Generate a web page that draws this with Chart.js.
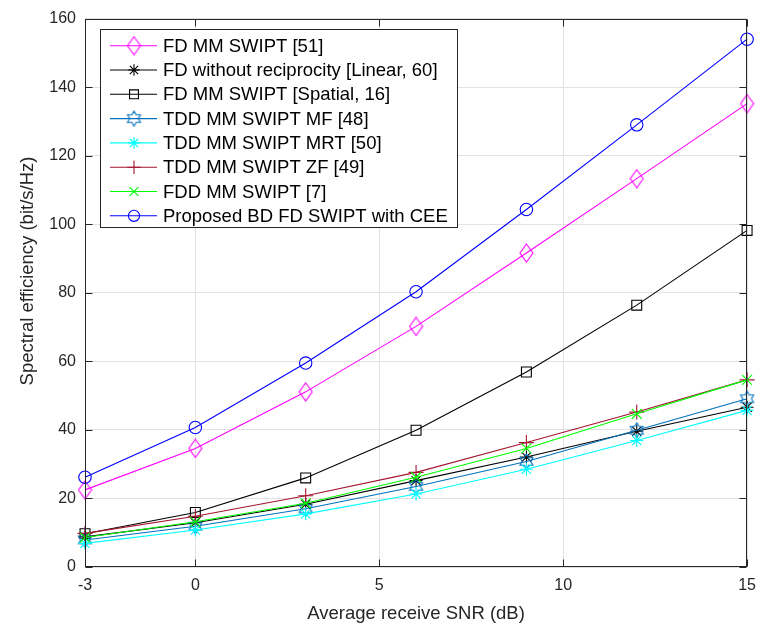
<!DOCTYPE html>
<html>
<head>
<meta charset="utf-8">
<script src="https://cdn.jsdelivr.net/npm/chart.js@4.4.1/dist/chart.umd.min.js"></script>
<style>
html,body{margin:0;padding:0;background:#fff;}
canvas{display:block;}
</style>
</head>
<body>
<canvas id="c" width="765" height="628" style="width:765px;height:628px"></canvas>
<script>
// ---- data ----
const snr = [-3, 0, 3, 6, 9, 12, 15];
const xTicks = [-3, 0, 5, 10, 15];
const yTicks = [0, 20, 40, 60, 80, 100, 120, 140, 160];
const labels = [
  'FD MM SWIPT [51]',
  'FD without reciprocity [Linear, 60]',
  'FD MM SWIPT [Spatial, 16]',
  'TDD MM SWIPT MF [48]',
  'TDD MM SWIPT MRT [50]',
  'TDD MM SWIPT ZF [49]',
  'FDD MM SWIPT [7]',
  'Proposed BD FD SWIPT with CEE'
];
const fdMM51      = [22.5, 34.6, 51.1, 70.2, 91.6, 113.3, 135.2];
const fdLinear60  = [8.8, 12.9, 18.3, 25.2, 32.1, 39.6, 46.6];
const fdSpatial16 = [9.7, 15.9, 26.0, 39.9, 56.9, 76.4, 98.2];
const tddMF48     = [7.9, 11.9, 17.0, 23.5, 30.8, 39.9, 49.1];
const tddMRT50    = [6.9, 10.8, 15.5, 21.3, 28.5, 36.9, 45.7];
const tddZF49     = [9.8, 14.8, 20.8, 27.6, 36.3, 45.2, 54.6];
const fdd7        = [8.6, 13.2, 18.6, 26.2, 34.6, 44.7, 54.6];
const proposed    = [26.2, 40.7, 59.5, 80.3, 104.3, 129.0, 154.0];

// ---- custom markers ----
function hexagram(color){
  const c = document.createElement('canvas');
  c.width = 17; c.height = 17;
  const g = c.getContext('2d');
  const cx = 8.5, cy = 8.5, R = 7.5, r = R / Math.sqrt(3);
  g.beginPath();
  for (let i = 0; i < 12; i++) {
    const ang = -Math.PI / 2 + i * Math.PI / 6;
    const rr = i % 2 === 0 ? R : r;
    const px = cx + rr * Math.cos(ang), py = cy + rr * Math.sin(ang);
    if (i === 0) g.moveTo(px, py); else g.lineTo(px, py);
  }
  g.closePath();
  g.strokeStyle = color; g.lineWidth = 1.1; g.stroke();
  return c;
}
function diamond(color){
  const c = document.createElement('canvas');
  c.width = 15; c.height = 20;
  const g = c.getContext('2d');
  g.beginPath();
  g.moveTo(7.5, 1); g.lineTo(14, 10); g.lineTo(7.5, 19); g.lineTo(1, 10); g.closePath();
  g.strokeStyle = color; g.lineWidth = 1.1; g.stroke();
  return c;
}

function ds(label, data, color, style, radius){
  return {
    label, data: snr.map((x, i) => ({x, y: data[i]})),
    borderColor: color, backgroundColor: 'rgba(0,0,0,0)',
    pointBorderColor: color, pointBackgroundColor: 'rgba(0,0,0,0)',
    pointStyle: style, pointRadius: radius, pointHoverRadius: radius,
    pointBorderWidth: 1.1, borderWidth: 1.1, tension: 0, clip: false, fill: false
  };
}

const datasets = [
  ds(labels[0], fdMM51, '#FF00FF', diamond('#FF00FF'), 9),
  ds(labels[1], fdLinear60, '#000000', 'star', 6.5),
  ds(labels[2], fdSpatial16, '#000000', 'rect', 7),
  ds(labels[3], tddMF48, '#0072BD', hexagram('#0072BD'), 7),
  ds(labels[4], tddMRT50, '#00FFFF', 'star', 6.5),
  ds(labels[5], tddZF49, '#A2142F', 'cross', 7.5),
  ds(labels[6], fdd7, '#00FF00', 'crossRot', 7),
  ds(labels[7], proposed, '#0000FF', 'circle', 6.2)
];
datasets.forEach((d, i) => d.order = datasets.length - i);

const FONT = "'Liberation Sans', Arial, Helvetica, sans-serif";
const AX = '#262626';

const frame = {
  id: 'frame',
  afterDraw(chart){
    const {ctx, chartArea: a, scales: {x, y}} = chart;
    ctx.save();
    const L = Math.round(a.left) + 0.5, R = Math.round(a.right) - 0.5;
    const T = Math.round(a.top) + 0.5, B = Math.round(a.bottom) - 0.5;
    ctx.strokeStyle = AX; ctx.lineWidth = 1;
    ctx.strokeRect(L, T, R - L, B - T);
    const tl = 7;
    ctx.beginPath();
    xTicks.forEach(v => {
      const px = Math.round(x.getPixelForValue(v)) + 0.5;
      ctx.moveTo(px, B); ctx.lineTo(px, B - tl);
      ctx.moveTo(px, T); ctx.lineTo(px, T + tl);
    });
    yTicks.forEach(v => {
      const py = Math.round(y.getPixelForValue(v)) + 0.5;
      ctx.moveTo(L, py); ctx.lineTo(L + tl, py);
      ctx.moveTo(R, py); ctx.lineTo(R - tl, py);
    });
    ctx.stroke();

    // axis titles
    ctx.fillStyle = AX;
    ctx.font = '18.5px ' + FONT;
    ctx.textAlign = 'center'; ctx.textBaseline = 'alphabetic';
    ctx.fillText('Average receive SNR (dB)', (a.left + a.right) / 2, 619);
    ctx.save();
    ctx.translate(33, 271);
    ctx.rotate(-Math.PI / 2);
    ctx.fillText('Spectral efficiency (bit/s/Hz)', 0, 0);
    ctx.restore();

    // legend
    const bx = 100.5, by = 29.5, bw = 357, bh = 198;
    ctx.fillStyle = '#ffffff';
    ctx.fillRect(bx, by, bw, bh);
    ctx.strokeStyle = AX; ctx.lineWidth = 1;
    ctx.strokeRect(bx, by, bw, bh);
    ctx.font = '18.5px ' + FONT;
    ctx.textAlign = 'left'; ctx.textBaseline = 'middle';
    chart.data.datasets.forEach((d, i) => {
      const ry = 45.7 + i * 24.3;
      ctx.strokeStyle = d.borderColor; ctx.lineWidth = d.borderWidth;
      ctx.beginPath(); ctx.moveTo(110, ry); ctx.lineTo(157, ry); ctx.stroke();
      ctx.fillStyle = 'rgba(0,0,0,0)';
      ctx.strokeStyle = d.pointBorderColor; ctx.lineWidth = d.pointBorderWidth;
      const rad = typeof d.pointStyle === 'string' ? d.pointRadius * 0.9 : d.pointRadius;
      Chart.helpers.drawPoint(ctx, {pointStyle: d.pointStyle, radius: rad, rotation: 0, borderWidth: d.pointBorderWidth}, 134, ry);
      ctx.fillStyle = '#000000';
      ctx.fillText(d.label, 163, ry + 1);
    });
    ctx.restore();
  }
};

new Chart(document.getElementById('c'), {
  type: 'line',
  data: { datasets },
  options: {
    responsive: false,
    devicePixelRatio: 1,
    animation: false,
    events: [],
    layout: { padding: { left: 0, right: 10, top: 14, bottom: 0 } },
    plugins: { legend: { display: false }, tooltip: { enabled: false }, title: { display: false } },
    scales: {
      x: {
        type: 'linear', min: -3, max: 15,
        afterBuildTicks: s => { s.ticks = xTicks.map(v => ({value: v})); },
        afterFit: s => { s.height = 61; },
        grid: { color: '#e2e2e2', lineWidth: 1, drawTicks: false },
        border: { display: false },
        ticks: { color: AX, font: { family: FONT, size: 16 }, padding: 9, maxRotation: 0, autoSkip: false,
                 callback: v => String(v) }
      },
      y: {
        type: 'linear', min: 0, max: 160,
        afterBuildTicks: s => { s.ticks = yTicks.map(v => ({value: v})); },
        afterFit: s => { s.width = 85; },
        grid: { color: '#e2e2e2', lineWidth: 1, drawTicks: false },
        border: { display: false },
        ticks: { color: AX, font: { family: FONT, size: 16 }, padding: 9, autoSkip: false,
                 callback: v => String(v) }
      }
    }
  },
  plugins: [frame]
});
</script>
</body>
</html>
